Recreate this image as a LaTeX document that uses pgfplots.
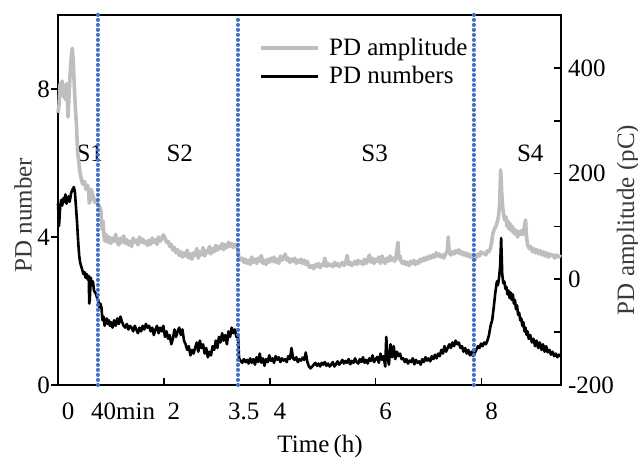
\documentclass[border=0pt]{standalone}
\usepackage{fontspec}
\setmainfont{Liberation Serif}
\usepackage{pgfplots}
\pgfplotsset{compat=1.18}
\definecolor{amp}{HTML}{BEBEBE}
\definecolor{sep}{HTML}{4472C4}
\definecolor{lab}{HTML}{3A3A3A}

\pgfplotstableread{
t y
0.00 4.9
0.02 4.3
0.04 4.8
0.06 5.0
0.08 4.85
0.10 5.05
0.12 4.95
0.14 5.15
0.16 4.9
0.18 5.0
0.20 5.1
0.22 4.95
0.25 5.2
0.28 5.3
0.30 5.35
0.32 5.2
0.34 4.8
0.36 4.4
0.38 3.9
0.40 3.5
0.42 3.3
0.45 3.15
0.48 3.0
0.50 3.05
0.52 2.9
0.54 3.0
0.56 2.85
0.58 2.95
0.59 2.2
0.60 2.3
0.62 2.9
0.64 2.7
0.66 2.8
0.68 2.55
0.70 2.5
0.72 2.45
0.74 2.35
0.76 2.3
0.78 2.1
0.80 2.2
0.82 2.1
0.84 1.75
0.86 1.85
0.88 1.6
0.90 1.7
0.92 1.8
0.94 1.65
0.96 1.75
0.98 1.6
1.00 1.7
1.03 1.55
1.06 1.75
1.09 1.6
1.12 1.8
1.15 1.65
1.18 1.85
1.21 1.7
1.24 1.6
1.27 1.55
1.30 1.65
1.33 1.5
1.36 1.6
1.39 1.55
1.42 1.45
1.45 1.6
1.48 1.5
1.51 1.4
1.54 1.55
1.57 1.45
1.60 1.6
1.63 1.5
1.66 1.65
1.69 1.55
1.72 1.6
1.75 1.45
1.78 1.55
1.81 1.35
1.84 1.5
1.87 1.6
1.90 1.4
1.93 1.55
1.96 1.45
1.99 1.6
2.02 1.3
2.05 1.45
2.08 1.25
2.11 1.35
2.14 1.1
2.17 1.25
2.20 1.5
2.23 1.3
2.26 1.45
2.29 1.55
2.32 1.35
2.35 1.5
2.38 1.2
2.41 1.1
2.44 0.95
2.47 1.05
2.50 0.8
2.53 0.95
2.56 0.85
2.59 1.0
2.62 1.15
2.65 0.9
2.68 1.2
2.71 1.0
2.74 1.1
2.77 0.85
2.80 1.0
2.83 0.75
2.86 0.9
2.89 0.8
2.92 1.05
2.95 0.95
2.98 1.2
3.01 1.0
3.04 1.3
3.07 1.15
3.10 1.4
3.13 1.2
3.16 1.35
3.19 1.1
3.22 1.45
3.25 1.3
3.28 1.55
3.31 1.4
3.34 1.5
3.37 1.3
3.40 1.35
3.42 0.72
3.45 0.65
3.48 0.6
3.51 0.7
3.54 0.62
3.57 0.68
3.60 0.58
3.63 0.72
3.66 0.6
3.69 0.7
3.72 0.55
3.75 0.75
3.78 0.62
3.81 0.85
3.84 0.6
3.87 0.72
3.90 0.52
3.93 0.7
3.96 0.62
3.99 0.8
4.02 0.65
4.05 0.72
4.08 0.6
4.11 0.78
4.14 0.68
4.17 0.75
4.20 0.62
4.23 0.72
4.26 0.66
4.29 0.7
4.32 0.62
4.35 0.78
4.38 0.7
4.41 1.0
4.44 0.72
4.47 0.68
4.50 0.75
4.53 0.62
4.56 0.7
4.59 0.66
4.62 0.74
4.65 0.68
4.68 0.88
4.71 0.62
4.74 0.5
4.77 0.45
4.80 0.5
4.83 0.55
4.86 0.6
4.89 0.52
4.92 0.58
4.95 0.5
4.98 0.6
5.01 0.55
5.04 0.62
5.07 0.52
5.10 0.58
5.13 0.5
5.16 0.55
5.19 0.62
5.22 0.5
5.25 0.56
5.28 0.64
5.31 0.55
5.34 0.6
5.37 0.68
5.40 0.58
5.43 0.65
5.46 0.6
5.49 0.7
5.52 0.56
5.55 0.65
5.58 0.6
5.61 0.72
5.64 0.62
5.67 0.58
5.70 0.7
5.73 0.62
5.76 0.75
5.79 0.6
5.82 0.68
5.85 0.58
5.88 0.72
5.91 0.65
5.94 0.8
5.97 0.62
6.00 0.7
6.03 0.76
6.06 0.6
6.09 0.85
6.12 0.68
6.15 0.78
6.18 0.5
6.20 1.3
6.22 0.8
6.25 0.55
6.28 1.1
6.31 0.75
6.34 1.05
6.37 0.7
6.40 0.9
6.43 0.78
6.46 0.85
6.49 0.7
6.52 0.72
6.55 0.62
6.58 0.7
6.61 0.58
6.64 0.66
6.67 0.62
6.70 0.72
6.73 0.56
6.76 0.68
6.79 0.6
6.82 0.64
6.85 0.55
6.88 0.7
6.91 0.62
6.94 0.75
6.97 0.66
7.00 0.72
7.03 0.64
7.06 0.78
7.09 0.7
7.12 0.82
7.15 0.72
7.18 0.85
7.21 0.78
7.24 0.95
7.27 0.85
7.30 1.05
7.33 0.9
7.36 1.0
7.39 1.1
7.42 1.0
7.45 1.15
7.48 1.05
7.51 1.2
7.54 1.1
7.57 1.15
7.60 1.0
7.63 1.05
7.66 0.9
7.69 1.0
7.72 0.85
7.75 0.95
7.78 0.8
7.81 0.9
7.84 0.78
7.87 0.86
7.90 0.95
7.93 1.05
7.96 1.0
7.99 1.12
8.02 1.05
8.05 1.15
8.08 1.1
8.11 1.2
8.14 1.35
8.17 1.6
8.20 1.75
8.23 2.1
8.26 2.5
8.29 2.8
8.31 2.7
8.33 2.9
8.35 3.2
8.37 3.97
8.39 3.0
8.41 2.75
8.43 2.8
8.45 2.6
8.47 2.65
8.49 2.45
8.51 2.55
8.53 2.35
8.55 2.5
8.57 2.3
8.59 2.45
8.61 2.2
8.63 2.3
8.65 2.05
8.67 2.15
8.69 1.9
8.71 1.95
8.73 1.75
8.75 1.8
8.77 1.6
8.79 1.7
8.81 1.45
8.83 1.55
8.85 1.35
8.87 1.45
8.89 1.25
8.92 1.35
8.95 1.15
8.98 1.25
9.01 1.05
9.04 1.2
9.07 1.0
9.10 1.15
9.13 0.95
9.16 1.1
9.19 0.9
9.22 1.05
9.25 0.88
9.28 0.95
9.31 0.82
9.34 0.9
9.37 0.78
9.40 0.85
9.43 0.75
9.46 0.82
9.50 0.76
}\numbers

\pgfplotstableread{
t y
0.00 315
0.02 330
0.04 370
0.06 355
0.08 375
0.10 345
0.12 365
0.14 340
0.16 370
0.18 330
0.19 307
0.21 350
0.23 390
0.25 420
0.27 437
0.29 410
0.31 360
0.33 320
0.35 290
0.37 240
0.39 225
0.41 205
0.43 195
0.45 185
0.47 180
0.50 185
0.53 170
0.56 178
0.58 165
0.59 144
0.61 150
0.63 170
0.65 160
0.67 155
0.70 145
0.73 150
0.76 140
0.79 137
0.81 130
0.83 95
0.85 110
0.87 80
0.89 72
0.91 85
0.94 70
0.97 80
1.00 68
1.03 78
1.06 72
1.09 85
1.12 70
1.15 65
1.18 78
1.21 70
1.24 82
1.27 68
1.30 75
1.33 65
1.36 72
1.39 62
1.42 78
1.45 70
1.48 74
1.51 65
1.54 80
1.57 70
1.60 76
1.63 68
1.66 72
1.69 64
1.72 74
1.75 66
1.78 78
1.81 70
1.84 75
1.87 66
1.90 80
1.93 72
1.96 76
1.99 84
2.02 78
2.05 70
2.08 72
2.11 62
2.14 66
2.17 55
2.20 60
2.23 50
2.26 56
2.29 45
2.32 52
2.35 42
2.38 50
2.41 44
2.44 55
2.47 40
2.50 48
2.53 38
2.56 50
2.59 45
2.62 58
2.65 40
2.68 52
2.71 46
2.74 60
2.77 44
2.80 54
2.83 50
2.86 62
2.89 48
2.92 58
2.95 52
2.98 64
3.01 55
3.04 62
3.07 58
3.10 68
3.13 56
3.16 66
3.19 60
3.22 70
3.25 62
3.28 68
3.31 60
3.34 66
3.37 64
3.40 55
3.42 38
3.45 36
3.48 40
3.51 32
3.54 38
3.57 30
3.60 36
3.63 28
3.66 42
3.69 32
3.72 38
3.75 30
3.78 40
3.81 34
3.84 45
3.87 30
3.90 36
3.93 28
3.96 38
3.99 32
4.02 40
4.05 34
4.08 42
4.11 32
4.14 38
4.17 30
4.20 44
4.23 36
4.26 40
4.29 48
4.32 36
4.35 40
4.38 32
4.41 38
4.44 34
4.47 40
4.50 30
4.53 36
4.56 32
4.59 38
4.62 30
4.65 36
4.68 28
4.71 34
4.74 24
4.77 22
4.80 26
4.83 20
4.86 28
4.89 24
4.92 30
4.95 22
4.98 28
5.01 26
5.04 40
5.07 24
5.10 30
5.13 26
5.16 28
5.19 24
5.22 32
5.25 26
5.28 30
5.31 24
5.34 28
5.37 32
5.40 26
5.43 30
5.46 45
5.49 28
5.52 32
5.55 26
5.58 30
5.61 34
5.64 28
5.67 36
5.70 30
5.73 34
5.76 28
5.79 38
5.82 30
5.85 36
5.88 46
5.91 32
5.94 40
5.97 30
6.00 38
6.03 34
6.06 42
6.09 30
6.12 44
6.15 36
6.18 30
6.21 40
6.24 34
6.27 44
6.30 36
6.33 40
6.36 34
6.39 46
6.42 70
6.44 38
6.46 44
6.48 34
6.51 30
6.54 34
6.57 28
6.60 32
6.63 26
6.66 34
6.69 30
6.72 36
6.75 28
6.78 34
6.81 30
6.84 38
6.87 34
6.90 40
6.93 36
6.96 42
6.99 38
7.02 44
7.05 40
7.08 46
7.11 42
7.14 50
7.17 44
7.20 48
7.23 42
7.26 46
7.29 40
7.32 48
7.35 52
7.37 80
7.39 50
7.42 46
7.45 52
7.48 48
7.51 54
7.54 50
7.57 56
7.60 48
7.63 52
7.66 46
7.69 50
7.72 44
7.75 48
7.78 42
7.81 46
7.84 40
7.87 36
7.90 42
7.93 48
7.96 44
7.99 52
8.02 48
8.05 50
8.08 46
8.11 54
8.14 52
8.17 60
8.19 70
8.21 85
8.24 95
8.27 100
8.30 110
8.32 120
8.34 140
8.36 207
8.38 165
8.40 135
8.42 120
8.44 112
8.46 118
8.48 100
8.50 110
8.52 95
8.54 105
8.56 92
8.58 100
8.60 88
8.62 95
8.64 85
8.66 92
8.68 80
8.70 90
8.72 84
8.75 92
8.78 85
8.81 100
8.83 112
8.85 80
8.87 65
8.90 58
8.93 62
8.96 52
8.99 58
9.02 50
9.05 56
9.08 48
9.11 54
9.14 46
9.17 52
9.20 44
9.23 50
9.26 42
9.29 48
9.32 44
9.35 46
9.38 40
9.41 46
9.44 42
9.47 44
9.50 42
}\amplitude

\begin{document}
\begin{tikzpicture}
\pgfplotsset{
  common/.style={
    width=251.5pt, height=185pt, scale only axis,
    xmin=0, xmax=9.5,
    font=\fontsize{12.5}{15}\selectfont,
    /pgf/number format/assume math mode=true,
    axis line style={line width=0.9pt},
    major tick length=3.5pt,
    every tick/.style={line width=0.8pt, black},
    minor tick num=0,
    clip=false,
  },
  sepline/.style={sep, line width=2pt, line cap=round, dash pattern=on 0.1pt off 2.4pt, forget plot},
}
\begin{axis}[common,
  ymin=0, ymax=10,
  ytick={0,4,8},
  ytick pos=left, xtick pos=bottom,
  ytick align=outside, xtick align=inside,
  xtick={0,2,4,6,8},
  xticklabel style={xshift=5pt, yshift=-5.5pt},
  yticklabel style={xshift=3pt},
  extra x ticks={1.04,3.32},
  extra x tick labels={40min,3.5},
  extra x tick style={major tick length=0pt},
  ylabel={PD number},
  xlabel={Time\,(h)},
  every axis y label/.style={at={(axis description cs:0,0.459)}, xshift=-17.5pt, rotate=90, anchor=center, text=lab},
  every axis x label/.style={at={(axis description cs:0.521,0)}, anchor=center, yshift=-30.5pt},
]
\coordinate (SW) at (rel axis cs:0,0);
\coordinate (NE) at (rel axis cs:1,1);
\addplot[black, line width=1.3pt, line join=round] table[x=t, y=y] {\numbers};
\node at (axis cs:0.60,6.27) {S1};
\node at (axis cs:2.30,6.27) {S2};
\node at (axis cs:5.98,6.27) {S3};
\node at (axis cs:8.92,6.27) {S4};
\end{axis}
\begin{axis}[common,
  ymin=-200, ymax=500,
  axis y line*=right, axis x line=none,
  ytick align=inside,
  ytick={-200,-100,0,100,200,300,400},
  yticklabels={-200,,0,,200,,400},
  ylabel={PD amplitude (pC)},
  every axis y label/.style={at={(axis description cs:1,0.446)}, xshift=33.5pt, rotate=90, anchor=center, text=lab},
  legend image code/.code={\draw[#1] (0pt,0pt) -- (28.5pt,0pt);},
  legend style={draw=none, fill=none, at={(axis description cs:0.40,0.95)}, anchor=north west,
    font=\fontsize{12.5}{15}\selectfont, row sep=0pt, inner sep=0pt,
    nodes={inner sep=2pt}},
  legend cell align=left,
]
\addplot[amp, line width=1.8pt, line join=round] table[x=t, y=y] {\amplitude};
\addlegendentry{\hspace{2.5pt}PD amplitude}
\addlegendimage{black, line width=1.3pt}
\addlegendentry{\hspace{2.5pt}PD numbers}
\addplot[sepline] coordinates {(0.75,-200) (0.75,505)};
\addplot[sepline] coordinates {(3.40,-200) (3.40,500)};
\addplot[sepline] coordinates {(7.85,-200) (7.85,505)};
\end{axis}
\pgfresetboundingbox
\path[use as bounding box] ([xshift=-29pt,yshift=-37pt]SW) rectangle ([xshift=38.5pt,yshift=7.5pt]NE);
\end{tikzpicture}
\end{document}
